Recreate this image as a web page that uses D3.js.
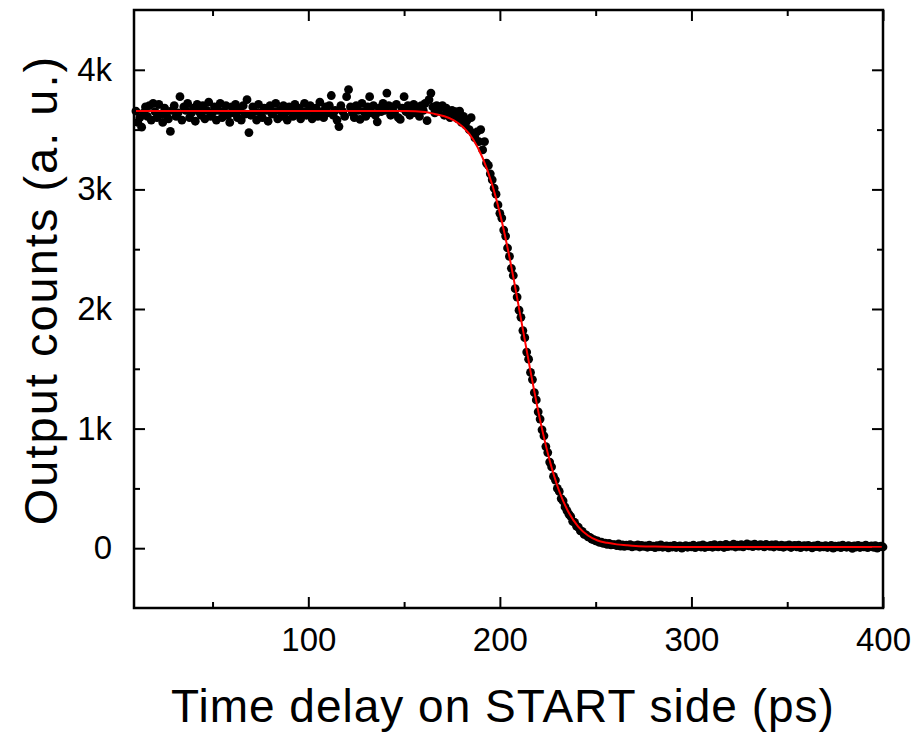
<!DOCTYPE html>
<html>
<head>
<meta charset="utf-8">
<script src="https://cdn.jsdelivr.net/npm/d3@7"></script>
<style>
  html, body { margin: 0; padding: 0; background: #ffffff; }
  svg { display: block; }
  text { font-family: "Liberation Sans", Arial, sans-serif; fill: #000; }
</style>
</head>
<body>
<svg id="chart" width="919" height="734"></svg>
<script>
// ---- data ----
const timePs = [
  10,11,12,13,14,15,16,17,18,19,
  20,21,22,23,24,25,26,27,28,29,
  30,31,32,33,34,35,36,37,38,39,
  40,41,42,43,44,45,46,47,48,49,
  50,51,52,53,54,55,56,57,58,59,
  60,61,62,63,64,65,66,67,68,69,
  70,71,72,73,74,75,76,77,78,79,
  80,81,82,83,84,85,86,87,88,89,
  90,91,92,93,94,95,96,97,98,99,
  100,101,102,103,104,105,106,107,108,109,
  110,111,112,113,114,115,116,117,118,119,
  120,121,122,123,124,125,126,127,128,129,
  130,131,132,133,134,135,136,137,138,139,
  140,141,142,143,144,145,146,147,148,149,
  150,151,152,153,154,155,156,157,158,159,
  160,161,162,163,164,165,166,167,168,169,
  170,171,172,173,174,175,176,177,178,179,
  180,181,182,183,184,185,186,187,188,189,
  190,191,192,193,194,195,196,197,198,199,
  200,201,202,203,204,205,206,207,208,209,
  210,211,212,213,214,215,216,217,218,219,
  220,221,222,223,224,225,226,227,228,229,
  230,231,232,233,234,235,236,237,238,239,
  240,241,242,243,244,245,246,247,248,249,
  250,251,252,253,254,255,256,257,258,259,
  260,261,262,263,264,265,266,267,268,269,
  270,271,272,273,274,275,276,277,278,279,
  280,281,282,283,284,285,286,287,288,289,
  290,291,292,293,294,295,296,297,298,299,
  300,301,302,303,304,305,306,307,308,309,
  310,311,312,313,314,315,316,317,318,319,
  320,321,322,323,324,325,326,327,328,329,
  330,331,332,333,334,335,336,337,338,339,
  340,341,342,343,344,345,346,347,348,349,
  350,351,352,353,354,355,356,357,358,359,
  360,361,362,363,364,365,366,367,368,369,
  370,371,372,373,374,375,376,377,378,379,
  380,381,382,383,384,385,386,387,388,389,
  390,391,392,393,394,395,396,397,398,399,
  400
];
const outputCounts = [
  3655,3560,3600,3520,3640,3690,3610,3700,3580,3720,
  3650,3600,3710,3630,3560,3680,3620,3590,3485,3660,
  3700,3610,3640,3775,3580,3690,3660,3720,3600,3640,
  3680,3570,3710,3650,3620,3700,3590,3660,3730,3610,
  3640,3690,3580,3660,3720,3600,3650,3700,3620,3560,
  3690,3640,3710,3600,3660,3580,3700,3630,3750,3475,
  3620,3690,3650,3580,3710,3640,3600,3680,3660,3570,
  3700,3630,3650,3720,3590,3660,3610,3700,3640,3580,
  3690,3660,3610,3710,3630,3680,3590,3650,3720,3620,
  3660,3700,3590,3640,3680,3610,3730,3650,3600,3690,
  3640,3700,3785,3620,3660,3580,3525,3700,3650,3610,
  3775,3835,3690,3640,3600,3700,3660,3585,3720,3650,
  3610,3690,3775,3640,3700,3620,3565,3680,3650,3720,
  3660,3805,3700,3620,3690,3640,3710,3600,3585,3680,
  3775,3650,3700,3620,3680,3710,3640,3690,3610,3700,
  3660,3720,3575,3750,3805,3690,3640,3700,3660,3690,
  3700,3620,3680,3640,3600,3660,3610,3650,3590,3655,
  3560,3610,3540,3580,3500,3600,3470,3430,3480,3400,
  3500,3330,3400,3220,3200,3130,3080,3010,2960,2870,
  2800,2760,2660,2610,2510,2440,2340,2280,2170,2100,
  1990,1930,1820,1760,1640,1580,1470,1410,1300,1240,
  1140,1080,990,940,850,800,720,680,600,570,
  500,475,415,395,345,315,285,265,225,215,
  185,175,145,140,115,112,95,90,75,72,
  62,60,48,50,40,42,32,40,28,30,
  30,22,35,18,28,15,25,20,30,12,
  22,18,28,10,24,16,20,8,26,14,
  18,5,22,12,28,8,15,20,2,18,
  10,24,6,16,20,0,14,22,8,18,
  12,26,4,16,22,10,28,6,18,14,
  24,8,30,16,12,26,20,6,32,14,
  22,18,34,10,26,16,30,12,24,36,
  20,28,14,34,22,18,30,26,12,32,
  24,16,28,10,30,20,14,26,8,22,
  18,28,6,20,24,12,26,4,18,22,
  10,24,16,2,20,14,26,8,18,12,
  22,6,16,24,0,18,12,20,4,26,
  14,8,22,16,-2,20,10,24,6,18,
  12,26,4,16,20,8,22,0,14,18,
  10
];
const fitTimePs = [10, 151, 161, 166, 171, 176, 181, 186, 191, 196, 201, 206, 211, 216, 221, 226, 231, 236, 241, 246, 251, 256, 261, 266, 271, 281, 291, 301, 400];
const fitCounts = [3655, 3655, 3647, 3631, 3612, 3578, 3518, 3420, 3264, 3039, 2734, 2352, 1918, 1478, 1071, 733, 476, 296, 178, 106, 64, 45, 32, 25, 19, 14, 11, 10, 10];

const xMajorTicks = [100, 200, 300, 400];
const xMinorTicks = [50, 150, 250, 350];
const yMajorTicks = [0, 1000, 2000, 3000, 4000];
const yMajorLabels = ["0", "1k", "2k", "3k", "4k"];
const yMinorTicks = [500, 1500, 2500, 3500];
const xTitle = "Time delay on START side (ps)";
const yTitle = "Output counts (a. u.)";

// ---- layout ----
const L = 134, R = 883, T = 10, B = 608;
const svg = d3.select("#chart");

const x = d3.scaleLinear().domain([9, 400]).range([L, R]);
const y = d3.scaleLinear().domain([-500, 4500]).range([B, T]);

const fitData = fitTimePs.map((t, i) => [t, fitCounts[i]]);

// points
svg.append("g")
  .selectAll("circle")
  .data(timePs.map((t, i) => [t, outputCounts[i]]))
  .join("circle")
  .attr("cx", d => x(d[0]))
  .attr("cy", d => y(d[1]))
  .attr("r", 4.4)
  .attr("fill", "#000");

// fit line
svg.append("path")
  .datum(fitData)
  .attr("fill", "none")
  .attr("stroke", "#ff0000")
  .attr("stroke-width", 2)
  .attr("d", d3.line().x(d => x(d[0])).y(d => y(d[1])).curve(d3.curveMonotoneX));

// axes (ticks inward on all four sides)
const fontTick = 33;
function styleAxis(g) {
  g.select(".domain").remove();
  g.selectAll(".tick line").attr("stroke", "#000").attr("stroke-width", 2);
  g.selectAll(".tick text").style("font-size", fontTick + "px").style("font-family", "'Liberation Sans', Arial, sans-serif").attr("fill", "#000");
}

svg.append("g").attr("transform", `translate(0,${B})`)
  .call(d3.axisBottom(x).tickValues(xMajorTicks).tickSize(-11).tickPadding(20).tickFormat(d3.format("d")))
  .call(styleAxis);
svg.append("g").attr("transform", `translate(0,${B})`)
  .call(d3.axisBottom(x).tickValues(xMinorTicks).tickSize(-6).tickFormat(""))
  .call(styleAxis);
svg.append("g").attr("transform", `translate(0,${T})`)
  .call(d3.axisTop(x).tickValues(xMajorTicks).tickSize(-11).tickFormat(""))
  .call(styleAxis);
svg.append("g").attr("transform", `translate(0,${T})`)
  .call(d3.axisTop(x).tickValues(xMinorTicks).tickSize(-6).tickFormat(""))
  .call(styleAxis);

svg.append("g").attr("transform", `translate(${L},0)`)
  .call(d3.axisLeft(y).tickValues(yMajorTicks).tickSize(-11).tickPadding(22).tickFormat((d, i) => yMajorLabels[i]))
  .call(styleAxis);
svg.append("g").attr("transform", `translate(${L},0)`)
  .call(d3.axisLeft(y).tickValues(yMinorTicks).tickSize(-6).tickFormat(""))
  .call(styleAxis);
svg.append("g").attr("transform", `translate(${R},0)`)
  .call(d3.axisRight(y).tickValues(yMajorTicks).tickSize(-11).tickFormat(""))
  .call(styleAxis);
svg.append("g").attr("transform", `translate(${R},0)`)
  .call(d3.axisRight(y).tickValues(yMinorTicks).tickSize(-6).tickFormat(""))
  .call(styleAxis);

// frame
svg.append("rect")
  .attr("x", L).attr("y", T).attr("width", R - L).attr("height", B - T)
  .attr("fill", "none").attr("stroke", "#000").attr("stroke-width", 2.5);

// titles
svg.append("text")
  .attr("x", 503).attr("y", 722)
  .attr("text-anchor", "middle")
  .style("font-size", "46px")
  .style("letter-spacing", "1px")
  .text(xTitle);

svg.append("text")
  .attr("transform", `translate(57,${(T + B) / 2 - 19}) rotate(-90)`)
  .attr("text-anchor", "middle")
  .style("font-size", "47px")
  .style("letter-spacing", "2px")
  .text(yTitle);
</script>
</body>
</html>
